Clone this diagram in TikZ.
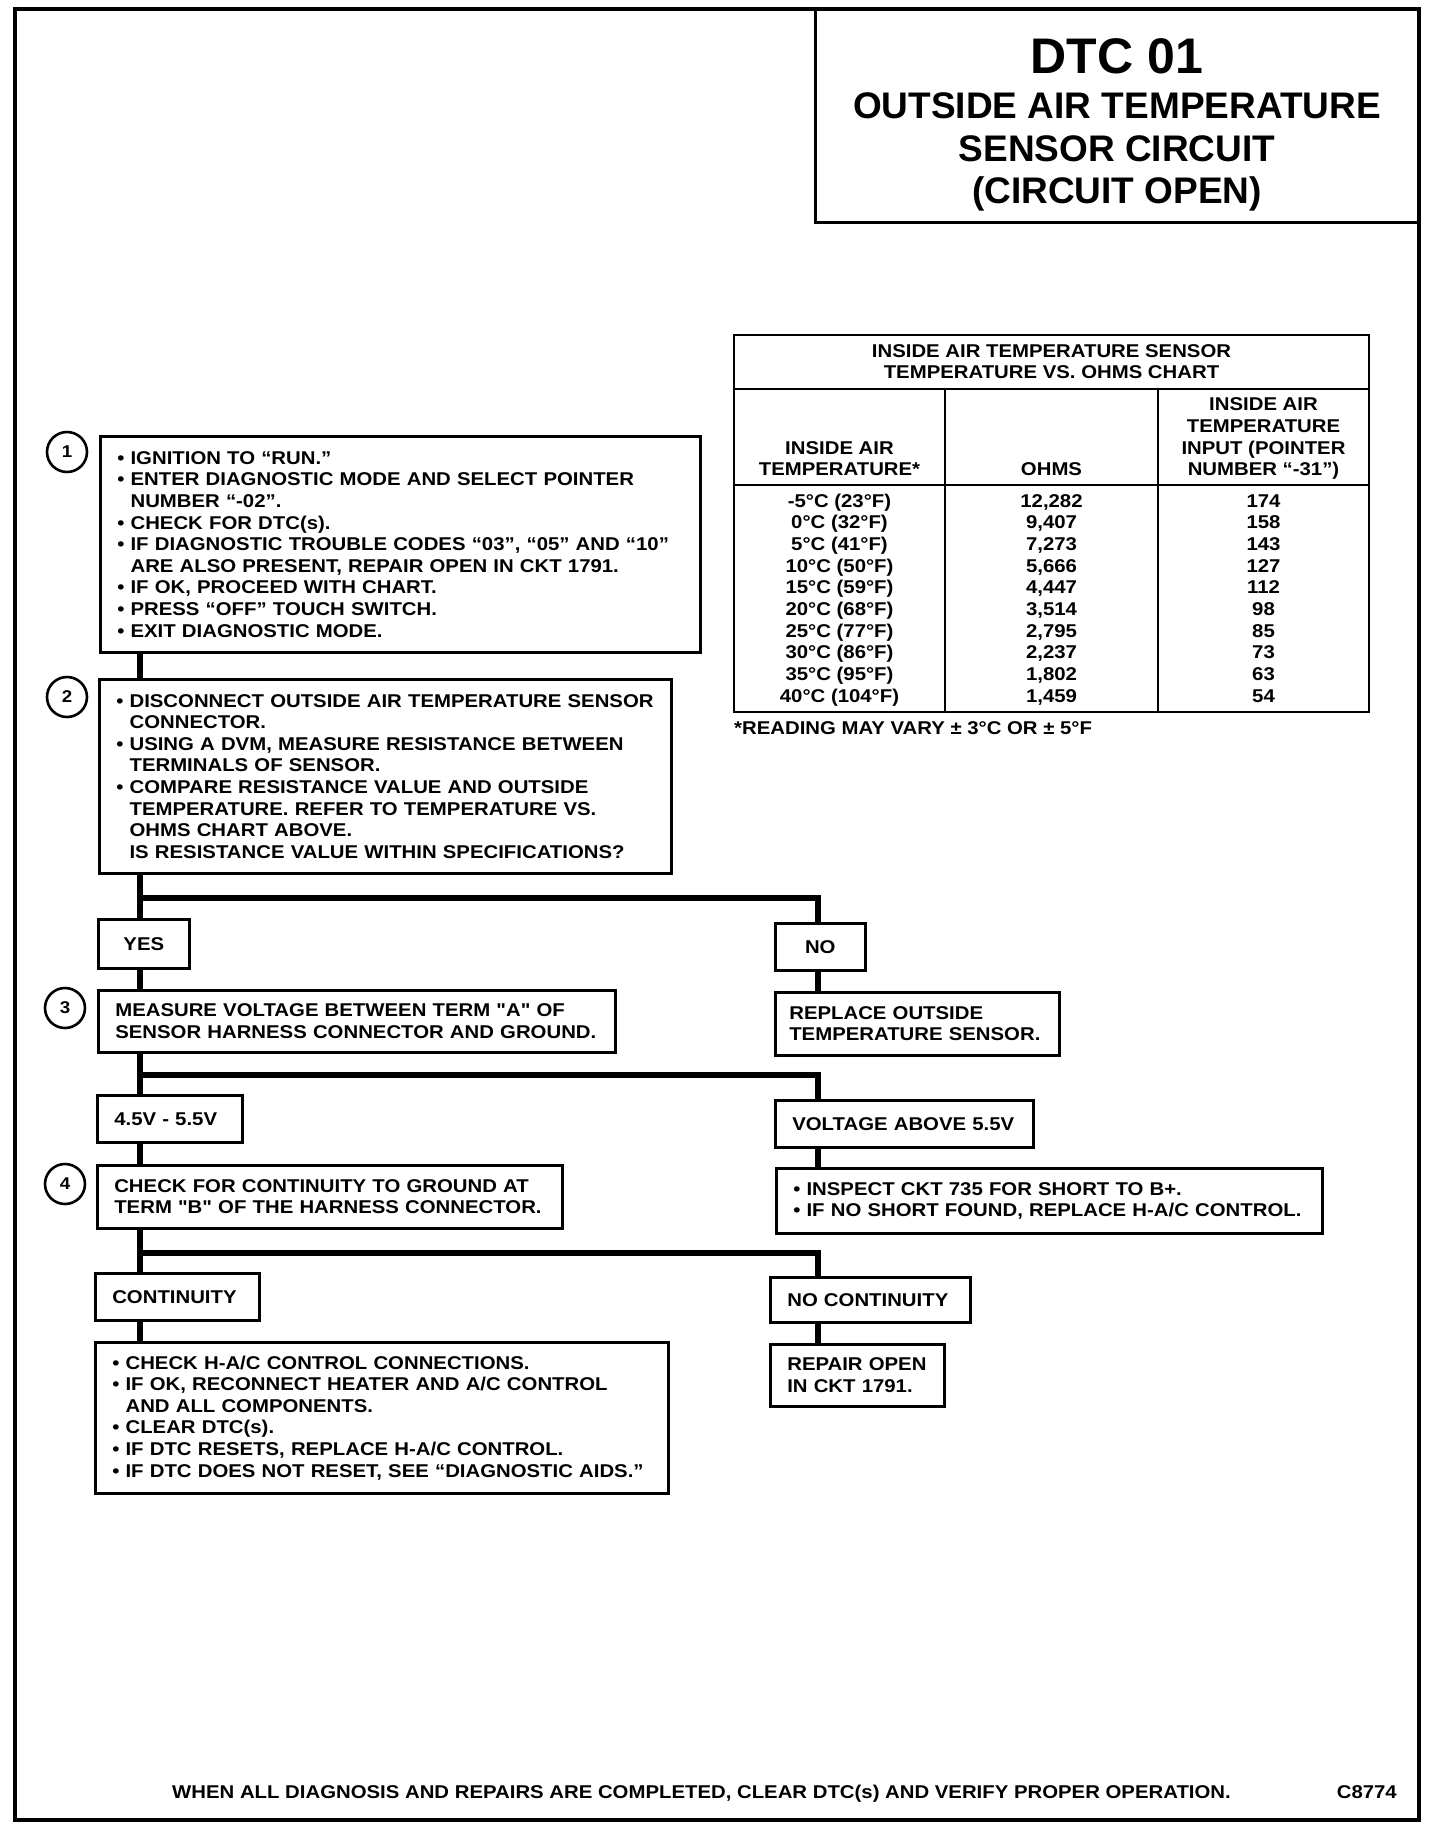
\documentclass[tikz,border=0pt]{standalone}
\usepackage{fontspec}
\newfontfamily\hv[FakeStretch=1.1]{Liberation Sans}
\newfontfamily\hvt{Liberation Sans}
\newcommand\bxfont{\hv\bfseries\fontsize{18.5}{21.6}\selectfont}
\begin{document}
\begin{tikzpicture}[x=1pt,y=-1pt,
  box/.style={draw, line width=2.6pt, rectangle, anchor=north west, inner xsep=17pt, inner ysep=0pt, align=left, font=\bxfont},
  lbl/.style={draw, line width=2.6pt, rectangle, anchor=north west, inner xsep=0pt, inner ysep=0pt, align=center, font=\bxfont},
  numc/.style={circle, draw, line width=2.6pt, minimum size=40pt, inner sep=0pt, font=\hv\bfseries\fontsize{17}{17}\selectfont},
  conn/.style={line width=6pt},
  tl/.style={line width=2.6pt},
  txt/.style={font=\bxfont, inner sep=0pt},
  ttl/.style={font=\hvt\bfseries\fontsize{37}{43}\selectfont, inner sep=0pt, anchor=base},
]
\useasboundingbox (0,0) rectangle (1440,1832);
\fill[white] (0,0) rectangle (1440,1832);
% frame and title
\draw[line width=4pt] (15,9) rectangle (1419,1820);
\draw[line width=3pt] (815,9) -- (815,222) -- (1419,222);
\node[ttl, font=\hvt\bfseries\fontsize{50}{55}\selectfont] (t1) at (1117,73) {DTC 01};
\node[ttl] (t2) at (1117,118.5) {OUTSIDE AIR TEMPERATURE};
\node[ttl] (t3) at (1117,161.8) {SENSOR CIRCUIT};
\node[ttl] (t4) at (1117,203.8) {(CIRCUIT OPEN)};

% table
\draw[tl] (734,335) rectangle (1369,712);
\draw[tl] (734,389) -- (1369,389);
\draw[tl] (734,485) -- (1369,485);
\draw[tl] (945,389) -- (945,712);
\draw[tl] (1158,389) -- (1158,712);
\node[txt, anchor=base] (h0a) at (1051.5,357.6) {INSIDE AIR TEMPERATURE SENSOR};
\node[txt, anchor=base] (h0b) at (1051.5,378.6) {TEMPERATURE VS. OHMS CHART};
\node[txt, anchor=base] (h1a) at (839.5,454.6) {INSIDE AIR};
\node[txt, anchor=base] (h1b) at (839.5,475.6) {TEMPERATURE*};
\node[txt, anchor=base] (h2) at (1051.5,475.6) {OHMS};
\node[txt, anchor=base] (h3a) at (1263.5,410.6) {INSIDE AIR};
\node[txt, anchor=base] (h3b) at (1263.5,432.6) {TEMPERATURE};
\node[txt, anchor=base] (h3c) at (1263.5,454.6) {INPUT (POINTER};
\node[txt, anchor=base] (h3d) at (1263.5,475.6) {NUMBER “-31”)};
\foreach \a/\b/\c [count=\i from 0] in {{-5°C (23°F)}/{12,282}/174, {0°C (32°F)}/{9,407}/158, {5°C (41°F)}/{7,273}/143, {10°C (50°F)}/{5,666}/127, {15°C (59°F)}/{4,447}/112, {20°C (68°F)}/{3,514}/98, {25°C (77°F)}/{2,795}/85, {30°C (86°F)}/{2,237}/73, {35°C (95°F)}/{1,802}/63, {40°C (104°F)}/{1,459}/54}
{
  \node[txt, anchor=base] (ra\i) at (839.5,{507+21.7*\i}) {\a};
  \node[txt, anchor=base] (rb\i) at (1051.5,{507+21.7*\i}) {\b};
  \node[txt, anchor=base] (rc\i) at (1263.5,{507+21.7*\i}) {\c};
}
\node[txt, anchor=base west] (fn) at (734,734) {*READING MAY VARY ± 3°C OR ± 5°F};

% flowchart
\node[numc] (c1) at (67,452) {1};
\node[box, minimum width=600pt, minimum height=216pt, text width=566pt] (b1) at (99,435) {%
• IGNITION TO “RUN.”\\
• ENTER DIAGNOSTIC MODE AND SELECT POINTER\\
\phantom{• }NUMBER “-02”.\\
• CHECK FOR DTC(s).\\
• IF DIAGNOSTIC TROUBLE CODES “03”, “05” AND “10”\\
\phantom{• }ARE ALSO PRESENT, REPAIR OPEN IN CKT 1791.\\
• IF OK, PROCEED WITH CHART.\\
• PRESS “OFF” TOUCH SWITCH.\\
• EXIT DIAGNOSTIC MODE.};

\node[numc] (c2) at (67,697) {2};
\node[box, minimum width=572pt, minimum height=194pt, text width=538pt] (b2) at (98,678) {%
• DISCONNECT OUTSIDE AIR TEMPERATURE SENSOR\\
\phantom{• }CONNECTOR.\\
• USING A DVM, MEASURE RESISTANCE BETWEEN\\
\phantom{• }TERMINALS OF SENSOR.\\
• COMPARE RESISTANCE VALUE AND OUTSIDE\\
\phantom{• }TEMPERATURE. REFER TO TEMPERATURE VS.\\
\phantom{• }OHMS CHART ABOVE.\\
\phantom{• }IS RESISTANCE VALUE WITHIN SPECIFICATIONS?};

\node[lbl, minimum width=91pt, minimum height=49pt, text width=91pt] (yes) at (97,918) {YES};
\node[lbl, minimum width=90pt, minimum height=47pt, text width=90pt] (no) at (774,922) {NO};

\node[numc] (c3) at (65,1008) {3};
\node[box, minimum width=517pt, minimum height=62pt, text width=483pt] (b3) at (97,989) {%
MEASURE VOLTAGE BETWEEN TERM "A" OF\\
SENSOR HARNESS CONNECTOR AND GROUND.};
\node[box, minimum width=284pt, minimum height=63pt, inner xsep=14pt, text width=256pt] (rep) at (774,991) {%
REPLACE OUTSIDE\\
TEMPERATURE SENSOR.};

\node[box, minimum width=145pt, minimum height=47pt, text width=111pt] (v1) at (96,1094) {4.5V - 5.5V};
\node[box, minimum width=258pt, minimum height=47pt, text width=224pt] (vab) at (774,1099) {VOLTAGE ABOVE 5.5V};

\node[numc] (c4) at (65,1184) {4};
\node[box, minimum width=465pt, minimum height=63pt, text width=431pt] (b4) at (96,1164) {%
CHECK FOR CONTINUITY TO GROUND AT\\
TERM "B" OF THE HARNESS CONNECTOR.};
\node[box, minimum width=546pt, minimum height=65pt, text width=512pt] (insp) at (775,1167) {%
• INSPECT CKT 735 FOR SHORT TO B+.\\
• IF NO SHORT FOUND, REPLACE H-A/C CONTROL.};

\node[box, minimum width=164pt, minimum height=47pt, text width=130pt] (cont) at (94,1272) {CONTINUITY};
\node[box, minimum width=200pt, minimum height=45pt, text width=166pt] (ncont) at (769,1276) {NO CONTINUITY};

\node[box, minimum width=573pt, minimum height=151pt, text width=539pt] (fin) at (94,1341) {%
• CHECK H-A/C CONTROL CONNECTIONS.\\
• IF OK, RECONNECT HEATER AND A/C CONTROL\\
\phantom{• }AND ALL COMPONENTS.\\
• CLEAR DTC(s).\\
• IF DTC RESETS, REPLACE H-A/C CONTROL.\\
• IF DTC DOES NOT RESET, SEE “DIAGNOSTIC AIDS.”};
\node[box, minimum width=174pt, minimum height=62pt, text width=140pt] (rop) at (769,1343) {%
REPAIR OPEN\\
IN CKT 1791.};

% connectors
\coordinate (tk) at (140,0);
\coordinate (rt) at (818,0);
\coordinate (j1) at (140,898);
\coordinate (j2) at (140,1075);
\coordinate (j3) at (140,1253);
\draw[conn] (b1.south -| tk) -- (b2.north -| tk);
\draw[conn] (b2.south -| tk) -- (yes.north -| tk);
\draw[conn] (j1) -| (no.north -| rt);
\draw[conn] (yes.south -| tk) -- (b3.north -| tk);
\draw[conn] (no.south -| rt) -- (rep.north -| rt);
\draw[conn] (b3.south -| tk) -- (v1.north -| tk);
\draw[conn] (j2) -| (vab.north -| rt);
\draw[conn] (v1.south -| tk) -- (b4.north -| tk);
\draw[conn] (vab.south -| rt) -- (insp.north -| rt);
\draw[conn] (b4.south -| tk) -- (cont.north -| tk);
\draw[conn] (j3) -| (ncont.north -| rt);
\draw[conn] (cont.south -| tk) -- (fin.north -| tk);
\draw[conn] (ncont.south -| rt) -- (rop.north -| rt);

% footer
\node[txt, anchor=base west] (foot) at (172,1798) {WHEN ALL DIAGNOSIS AND REPAIRS ARE COMPLETED, CLEAR DTC(s) AND VERIFY PROPER OPERATION.};
\node[txt, anchor=base east] (code) at (1397,1798) {C8774};
\end{tikzpicture}
\end{document}
